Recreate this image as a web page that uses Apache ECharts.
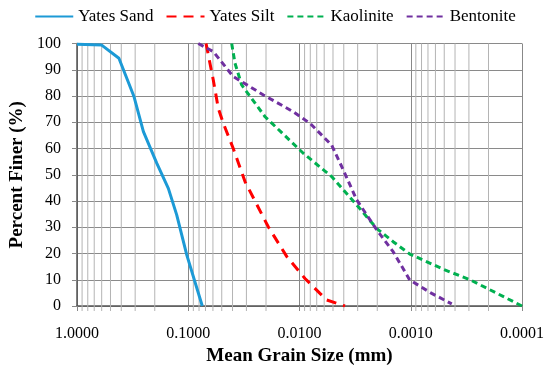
<!DOCTYPE html>
<html>
<head>
<meta charset="utf-8">
<script src="https://cdn.jsdelivr.net/npm/echarts@6/dist/echarts.min.js"></script>
<style>html,body{margin:0;padding:0;background:#fff}#c{width:550px;height:368px}</style>
</head>
<body>
<div id="c"></div>
<script>
var seriesNames = ['Yates Sand', 'Yates Silt', 'Kaolinite', 'Bentonite'];
var sandX = [1.0, 0.6, 0.42, 0.307, 0.253, 0.192, 0.151, 0.127, 0.103, 0.0748];
var sandY = [99.7, 99.4, 94.4, 79.7, 66.4, 54.4, 44.8, 34.7, 19.4, 0];
var siltX = [0.0692, 0.0595, 0.0537, 0.0484, 0.0394, 0.0309, 0.0191, 0.0130, 0.00893, 0.00655, 0.0057, 0.0039];
var siltY = [100, 86, 75.3, 69.6, 60, 47.4, 30.2, 18.8, 10.5, 4.8, 2.3, 0];
var kaoX = [0.0407, 0.038, 0.0331, 0.0204, 0.00925, 0.00514, 0.00306, 0.00202, 0.00144, 0.00102, 0.00051, 0.00029, 0.0001];
var kaoY = [100, 92.5, 84.2, 72.1, 58.2, 49.3, 38.5, 29.5, 24.5, 19.8, 14, 9.9, 0];
var bentX = [0.0813, 0.0595, 0.0394, 0.0211, 0.01137, 0.00805, 0.00514, 0.00404, 0.00306, 0.00202, 0.00144, 0.00102, 0.000648, 0.000428];
var bentY = [100, 96.9, 87.4, 80.4, 74, 69.6, 61.3, 51.8, 40.4, 29, 20.7, 9.9, 4.8, 0.8];
var decades = [0.0001, 0.001, 0.01, 0.1];
var minorMultipliers = [2, 3, 4, 5, 6, 7, 8, 9];

function pairs(xs, ys) { return xs.map(function (x, i) { return [x, ys[i]]; }); }
var minorVals = [];
decades.forEach(function (d) { minorMultipliers.forEach(function (m) { minorVals.push([m * d, 0]); }); });

var font = '"Palatino Linotype", "Book Antiqua", Palatino, "Liberation Serif", serif';
var chart = echarts.init(document.getElementById('c'));
chart.setOption({
  animation: false,
  textStyle: { fontFamily: font },
  legend: {
    top: 3, left: 'center',
    data: seriesNames,
    itemWidth: 38, itemHeight: 14, itemGap: 12,
    itemStyle: { opacity: 0 },
    textStyle: { fontFamily: font, fontSize: 17, color: '#000' }
  },
  grid: { left: 77, right: 28, top: 43.5, bottom: 62, containLabel: false, outerBoundsMode: 'none' },
  xAxis: {
    type: 'log', logBase: 10, min: 0.0001, max: 1, inverse: true,
    name: 'Mean Grain Size (mm)', nameLocation: 'middle', nameGap: 40,
    nameTextStyle: { fontFamily: font, fontSize: 19, fontWeight: 'bold', color: '#000' },
    axisLine: { lineStyle: { color: '#555', width: 1.5 } },
    axisTick: { show: true, length: 5, lineStyle: { color: '#888' } },
    axisLabel: { fontFamily: font, fontSize: 16, color: '#000', margin: 20,
      formatter: function (v) { return Number(v).toFixed(4); } },
    splitLine: { show: true, lineStyle: { color: '#888', width: 1 } }
  },
  yAxis: {
    type: 'value', min: 0, max: 100, interval: 10,
    name: 'Percent Finer (%)', nameLocation: 'middle', nameGap: 48,
    nameTextStyle: { fontFamily: font, fontSize: 19, fontWeight: 'bold', color: '#000' },
    axisLine: { show: true, lineStyle: { color: '#555', width: 1.5 } },
    axisTick: { show: true, length: 5, lineStyle: { color: '#888' } },
    axisLabel: { fontFamily: font, fontSize: 16, color: '#000', margin: 16 },
    splitLine: { show: true, lineStyle: { color: '#8a8a8a', width: 1 } }
  },
  series: [
    {
      type: 'custom', silent: true, z: 1,
      data: minorVals,
      renderItem: function (params, api) {
        var v = api.value(0);
        var p0 = api.coord([v, 0]);
        var p1 = api.coord([v, 100]);
        return { type: 'line', shape: { x1: p0[0], y1: p0[1] + 5, x2: p1[0], y2: p1[1] },
          style: { stroke: '#b4b4b4', lineWidth: 1 } };
      }
    },
    { name: seriesNames[0], type: 'line', data: pairs(sandX, sandY), showSymbol: false, symbol: 'none', z: 5,
      lineStyle: { color: '#1c9ad6', width: 3 }, itemStyle: { color: '#1c9ad6' } },
    { name: seriesNames[1], type: 'line', data: pairs(siltX, siltY), showSymbol: false, symbol: 'none', z: 5,
      lineStyle: { color: '#ff0000', width: 3, type: [10, 7] }, itemStyle: { color: '#ff0000' } },
    { name: seriesNames[2], type: 'line', data: pairs(kaoX, kaoY), showSymbol: false, symbol: 'none', z: 5,
      lineStyle: { color: '#00b050', width: 3, type: [6, 4] }, itemStyle: { color: '#00b050' } },
    { name: seriesNames[3], type: 'line', data: pairs(bentX, bentY), showSymbol: false, symbol: 'none', z: 5,
      lineStyle: { color: '#7030a0', width: 3, type: [6, 4] }, itemStyle: { color: '#7030a0' } }
  ]
});
</script>
</body>
</html>
